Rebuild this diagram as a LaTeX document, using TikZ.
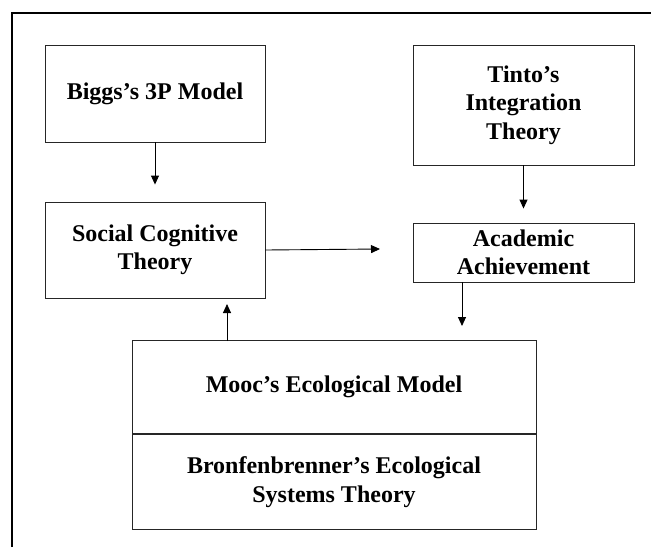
\documentclass[tikz,border=0pt]{standalone}
\usepackage{fontspec}
\setmainfont{Liberation Serif}
\usetikzlibrary{arrows.meta}

\tikzset{
    theory/.style={draw=black!85, line width=0.9pt, align=center, inner sep=2pt,
        font=\bfseries\fontsize{24}{28.5}\selectfont},
    link/.style={black, line width=0.9pt, -{Triangle[width=8pt,length=9pt]}}
}

\begin{document}
\begin{tikzpicture}[x=1pt, y=-1pt]
            \useasboundingbox (0,0) rectangle (651,547);
            \draw[black, line width=1.5pt] (12,547) -- (12,13) -- (651,13);

            \node[theory, minimum width=220pt, minimum height=97pt] (biggs) at (155,93.5) {Biggs's 3P Model};
            \node[theory, minimum width=220pt, minimum height=96pt] (social) at (155,250) {Social Cognitive\\Theory};
            \node[theory, minimum width=221pt, minimum height=120pt] (tinto) at (523.5,105) {Tinto's\\Integration\\Theory};
            \node[theory, minimum width=221pt, minimum height=59pt] (academic) at (523.5,252.5) {Academic\\Achievement};
            \node[theory, minimum width=404pt, minimum height=93pt] (mooc) at (334,387) {Mooc's Ecological Model};
            \node[theory, minimum width=404pt, minimum height=95pt, anchor=north] (bronf) at (mooc.south) {Bronfenbrenner's Ecological\\Systems Theory};

            \coordinate (socialtop) at ([yshift=17pt]social.north);
            \coordinate (academicleft) at (380,249);
            \coordinate (academictop) at ([yshift=14pt]academic.north);
            \coordinate (moocfrom) at (227,341);
            \coordinate (socialbottom) at (227,304);
            \coordinate (acadfrom) at (462,282);
            \coordinate (mooctop) at (462,326);

            \draw[link] (biggs.south) -- (socialtop);
            \draw[link] (social.east) -- (academicleft);
            \draw[link] (tinto.south) -- (academictop);
            \draw[link] (acadfrom) -- (mooctop);
            \draw[link] (moocfrom) -- (socialbottom);
        \end{tikzpicture}
\end{document}
